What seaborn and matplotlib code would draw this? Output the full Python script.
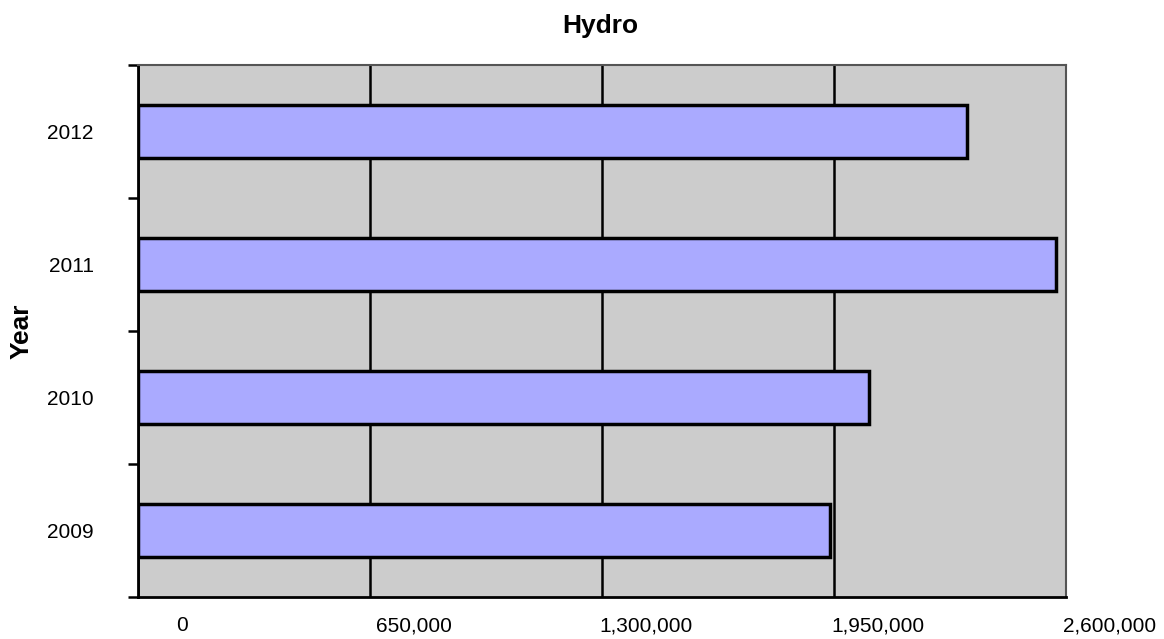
import pandas as pd
import numpy as np
import matplotlib
matplotlib.use('Agg')
import matplotlib.pyplot as plt
import matplotlib.transforms as mtransforms
from matplotlib.ticker import FixedLocator, FuncFormatter
import seaborn as sns

# data
years = ['2012', '2011', '2010', '2009']
hydro = [2322000, 2572000, 2048000, 1939000]
x_ticks = [0, 650000, 1300000, 1950000, 2600000]

df = pd.DataFrame({'Year': years, 'Hydro': hydro})

sns.set_style('white')
plt.rcParams['font.family'] = ['Liberation Sans', 'DejaVu Sans']
plt.rcParams['text.color'] = 'black'
plt.rcParams['axes.labelcolor'] = 'black'

fig = plt.figure(figsize=(11.64, 6.39), dpi=100)
ax = fig.add_axes([138 / 1164, 1 - 597 / 639, 928 / 1164, 532 / 639])
ax.set_facecolor('#cccccc')

sns.barplot(data=df, x='Hydro', y='Year', order=years, orient='h',
            color='#aaaaff', saturation=1, width=0.4,
            edgecolor='black', linewidth=2.5, ax=ax)

# axes ranges
ax.set_xlim(0, 2600000)
ax.set_ylim(3.5, -0.5)

# vertical gridlines
ax.set_axisbelow(True)
ax.xaxis.set_major_locator(FixedLocator(x_ticks))
ax.xaxis.set_major_formatter(FuncFormatter(lambda v, p: f'{int(v):,}'))
ax.grid(axis='x', color='black', linewidth=1.8)
ax.grid(axis='y', visible=False)

# tick styling
ax.tick_params(axis='x', direction='out', length=5, width=1.8, color='black',
               labelsize=15, labelcolor='black', pad=9)
ax.yaxis.set_minor_locator(FixedLocator([-0.5, 0.5, 1.5, 2.5, 3.5]))
ax.tick_params(axis='y', which='minor', direction='out', length=7, width=1.8,
               color='black', left=True)
ax.tick_params(axis='y', which='major', length=0, labelsize=15,
               labelcolor='black', pad=32)

# shift x labels to the right like the original
offset = mtransforms.ScaledTranslation(0.44, 0, fig.dpi_scale_trans)
for lbl in ax.get_xticklabels():
    lbl.set_transform(lbl.get_transform() + offset)

for side in ['left', 'bottom']:
    ax.spines[side].set_color('black')
    ax.spines[side].set_linewidth(2)
for side in ['top', 'right']:
    ax.spines[side].set_color('#555555')
    ax.spines[side].set_linewidth(1.5)

ax.set_xlabel('')
ax.set_ylabel('Year', fontsize=19, fontweight='bold', color='black')
ax.yaxis.set_label_coords(-0.112, 0.5)
fig.text(600 / 1164, 1 - 26 / 639, 'Hydro', ha='center', va='center',
         fontsize=19, fontweight='bold', color='black')

fig.savefig('out.png', dpi=100)
